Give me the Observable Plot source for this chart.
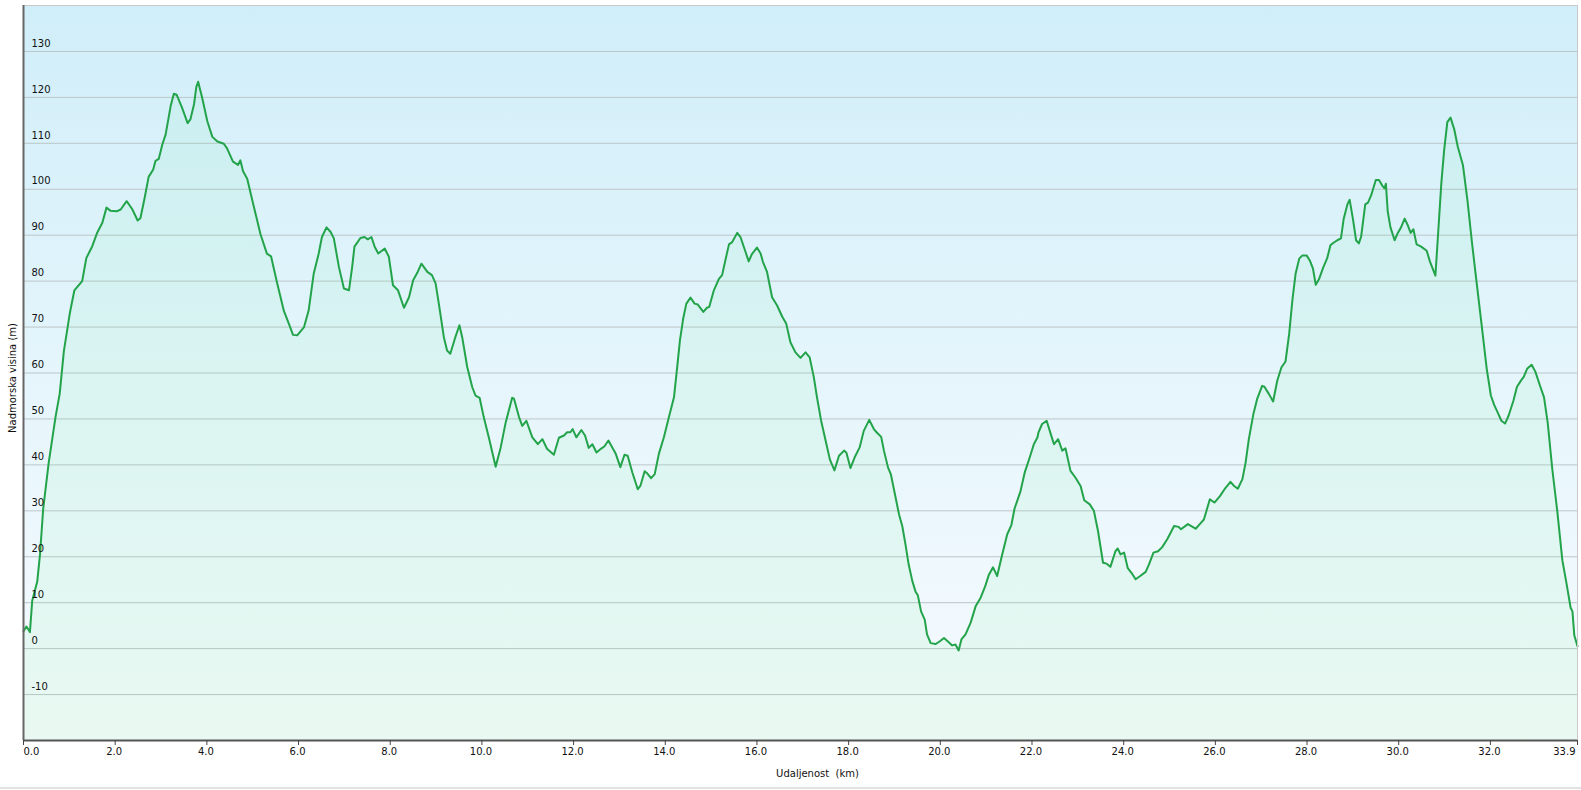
<!DOCTYPE html>
<html>
<head>
<meta charset="utf-8">
<script src="https://cdn.jsdelivr.net/npm/d3@7"></script>
<script src="https://cdn.jsdelivr.net/npm/@observablehq/plot@0.6"></script>
<style>
  html, body { margin: 0; padding: 0; background: #ffffff; }
  #wrap { position: relative; width: 1581px; height: 790px; overflow: hidden; }
  #bottomline { position: absolute; left: 0; top: 787px; width: 1581px; height: 2px; background: #e2e2e2; }
</style>
</head>
<body>
<div id="wrap"><div id="chart"></div><div id="bottomline"></div></div>
<script>
// Distance along the route (km)
const distanceKm = [
  0.00, 0.065, 0.14, 0.19, 0.30, 0.36, 0.43, 0.55, 0.70, 0.79, 0.88, 1.01, 1.11, 1.28, 1.37, 1.50, 1.61, 1.72, 1.81, 1.90,
  2.03, 2.12, 2.25, 2.37, 2.49, 2.55, 2.64, 2.73, 2.83, 2.88, 2.95, 3.03, 3.10, 3.21, 3.28, 3.34, 3.46, 3.58, 3.64, 3.72,
  3.77, 3.81, 3.90, 4.01, 4.12, 4.23, 4.37, 4.44, 4.57, 4.68, 4.73, 4.79, 4.88, 5.02, 5.17, 5.31, 5.40, 5.53, 5.68,
  5.79, 5.88, 5.97, 6.12, 6.22, 6.33, 6.44, 6.51, 6.61, 6.70, 6.77, 6.88, 6.99, 7.10, 7.17, 7.22, 7.35, 7.44, 7.51, 7.59,
  7.66, 7.74, 7.88, 7.97, 8.06, 8.17, 8.30, 8.41, 8.50, 8.59, 8.68, 8.81, 8.91, 8.99, 9.06, 9.17, 9.24, 9.31, 9.42, 9.51,
  9.57, 9.68, 9.79, 9.86, 9.95, 10.04, 10.15, 10.30, 10.41, 10.52, 10.66, 10.70, 10.81, 10.88, 10.97, 11.10, 11.22, 11.32, 11.42,
  11.57, 11.68, 11.79, 11.86, 11.93, 11.98, 12.06, 12.17, 12.25, 12.33, 12.41, 12.50, 12.61, 12.67, 12.76, 12.82, 12.92, 13.02,
  13.11, 13.18, 13.28, 13.40, 13.46, 13.55, 13.61, 13.69, 13.77, 13.86, 13.97, 14.08, 14.19, 14.26, 14.32, 14.39, 14.46, 14.55,
  14.64, 14.71, 14.83, 14.91, 14.96, 15.06, 15.17, 15.24, 15.31, 15.39, 15.46, 15.57, 15.64, 15.75, 15.82, 15.89, 16.00, 16.08,
  16.13, 16.22, 16.33, 16.44, 16.55, 16.64, 16.73, 16.84, 16.95, 17.06,
  17.15, 17.24, 17.31, 17.40, 17.50, 17.59, 17.69, 17.79, 17.90, 17.95, 18.04, 18.13, 18.24, 18.33, 18.45, 18.55, 18.61, 18.71,
  18.77, 18.86, 18.92, 19.01, 19.10, 19.17, 19.24, 19.31, 19.39, 19.46, 19.51, 19.58, 19.66, 19.71, 19.79, 19.90, 19.99, 20.08,
  20.16, 20.26, 20.33, 20.40, 20.46, 20.55, 20.66, 20.77, 20.88, 20.98, 21.06, 21.15, 21.24, 21.35, 21.46, 21.55, 21.62, 21.75,
  21.84, 21.95, 22.04, 22.12, 22.14, 22.22, 22.32, 22.41, 22.48, 22.57, 22.66, 22.73,
  22.84, 22.95, 23.06, 23.14, 23.26, 23.35, 23.44, 23.55, 23.63, 23.71, 23.82, 23.87, 23.93, 24.01, 24.09, 24.17, 24.26, 24.36,
  24.48, 24.55, 24.65, 24.75, 24.84, 24.95, 25.10, 25.20, 25.25, 25.40, 25.57, 25.66, 25.75, 25.88, 25.98, 26.10, 26.20, 26.33,
  26.41, 26.49, 26.59, 26.66, 26.73, 26.83, 26.91, 27.02, 27.07, 27.17, 27.26, 27.35, 27.44, 27.53, 27.61, 27.68, 27.75, 27.83,
  27.90, 27.99, 28.06,
  28.13, 28.19, 28.26, 28.35, 28.44, 28.51, 28.57, 28.66, 28.74, 28.80, 28.88, 28.93, 29.00, 29.07, 29.13, 29.18, 29.27, 29.33,
  29.40, 29.50, 29.57, 29.64, 29.69, 29.72, 29.76, 29.82, 29.91, 29.98, 30.05, 30.13, 30.20, 30.26, 30.32, 30.39, 30.49, 30.61,
  30.68, 30.80, 30.85, 30.93, 30.99, 31.06, 31.13, 31.21, 31.29, 31.40, 31.50, 31.60, 31.71, 31.82, 31.92, 32.01, 32.08, 32.15,
  32.24, 32.32, 32.40, 32.50, 32.58, 32.67, 32.73, 32.80, 32.90, 32.98, 33.09, 33.17, 33.25, 33.35, 33.46, 33.57, 33.66, 33.75,
  33.79, 33.83, 33.90
];

// Elevation (m) at each distance
const elevationM = [
  3.8, 4.8, 3.6, 10.4, 14.6, 20.5, 30.5, 40.5, 50.5, 55.5, 64.7, 73, 78, 80, 85, 87.6, 90.6, 92.7, 96, 95.3,
  95.2, 95.6, 97.4, 95.7, 93.2, 93.7, 98, 102.7, 104.3, 106.2, 106.6, 109.8, 111.9, 118.1, 120.8, 120.6, 117.7, 114.4, 115.2, 118.5,
  122.3, 123.4, 119.8, 114.8, 111.4, 110.4, 109.9, 108.9, 106, 105.3, 106.3, 103.9, 102.3, 96.4, 90.2, 86, 85.4, 79.7, 73.5,
  70.7, 68.3, 68.2, 70, 73.6, 81.6, 86, 89.6, 91.7, 90.7, 89.3, 83.1, 78.4, 78, 83.1, 87.5, 89.4, 89.6, 89.1, 89.6,
  87.5, 86, 87.1, 85.3, 79.1, 78, 74.2, 76.5, 80.2, 81.8, 83.8, 82, 81.3, 79.5, 75.1, 67.8, 64.9, 64.2, 67.8, 70.4,
  67.8, 61.3, 56.9, 55.1, 54.6, 50.4, 46, 39.6, 43.8, 49.3, 54.6, 54.4, 50.4, 48.5, 49.6, 46, 44.5, 45.6, 43.5,
  42.2, 45.9, 46.4, 47.1, 47.1, 47.8, 46, 47.6, 46.4, 43.7, 44.5, 42.7, 43.6, 44, 45.3, 44.2, 42.4, 39.5,
  42.2, 42, 38.4, 34.7, 35.5, 38.6, 38.1, 37.1, 38, 42.4, 46, 50.4, 54.7, 61.3, 67.1, 71.8, 75.1, 76.4,
  75.1, 74.9, 73.3, 74.2, 74.4, 78, 80.5, 81.3, 84.5, 88, 88.5, 90.5, 89.6, 86.4, 84.3, 85.9, 87.3, 86,
  84.2, 82, 76.5, 74.7, 72.3, 70.7, 66.7, 64.5, 63.3, 64.5,
  63.4, 59.1, 54.7, 49.6, 45.2, 41.2, 38.8, 42, 43.1, 42.7, 39.3, 41.6, 43.8, 47.4, 49.8, 47.8, 47.1, 46.1,
  43.1, 39.4, 38, 33.6, 29.2, 26.7, 22.7, 18.3, 14.7, 12.4, 11.6, 8.1, 6.3, 3.1, 1.2, 1.0, 1.6, 2.3,
  1.6, 0.7, 0.9, -0.4, 2, 3.1, 5.6, 9.2, 11.1, 13.6, 16.1, 17.7, 15.8, 20.5, 24.9, 26.9, 30.5, 34.3,
  38.3, 41.6, 44.5, 46, 47, 48.9, 49.6, 46.7, 44.5, 45.6, 43.1, 43.6,
  38.7, 37.2, 35.4, 32.3, 31.4, 30, 25.6, 18.7, 18.5, 17.8, 21.2, 21.8, 20.5, 20.9, 17.5, 16.5, 15.1, 15.8,
  16.7, 18.3, 20.9, 21.2, 22.1, 23.8, 26.7, 26.5, 26, 27.1, 26.1, 27.1, 28.1, 32.5, 31.8, 33.2, 34.7, 36.3,
  35.4, 34.8, 36.9, 40.5, 45.6, 51.1, 54.3, 57.2, 57, 55.4, 53.8, 58.3, 61.2, 62.5, 68.5, 75.8, 81.6, 84.9,
  85.6, 85.6, 84.5,
  82.7, 79.2, 80.4, 82.9, 85, 87.8, 88.3, 88.9, 89.3, 93.6, 96.7, 97.7, 93.6, 88.9, 88.2, 89.7, 96.7, 97.1,
  98.7, 102, 102, 100.8, 100.2, 101.2, 95.2, 91.7, 88.9, 90.5, 91.7, 93.6, 92.1, 90.5, 91.3, 88, 87.5, 86.6,
  84.3, 81.2, 88.9, 101.4, 108.4, 114.6, 115.6, 113.1, 109.2, 105.3, 97.5, 88.2, 78.8, 69.5, 60.9, 55.1, 53.1, 51.6,
  49.6, 49, 50.8, 53.9, 57, 58.4, 59.2, 60.9, 61.8, 60.3, 57, 54.7, 49.2, 39.1, 29.8, 19.2, 14.2, 8.9,
  8.1, 2.9, 0.5
];

// Axis ticks
const yTickValues = [-10, 0, 10, 20, 30, 40, 50, 60, 70, 80, 90, 100, 110, 120, 130];
const xTickValues = [2, 4, 6, 8, 10, 12, 14, 16, 18, 20, 22, 24, 26, 28, 30, 32];
const xFirstTick = [0];
const xLastTick = [33.9];
const yTitle = ["Nadmorska visina (m)"];
const xTitle = ["Udaljenost\u00a0 (km)"];

const idx = d3.range(distanceKm.length);
const fontFamily = "'DejaVu Sans', Verdana, sans-serif";

// Gradient definitions (non-data helper mark)
function gradientDefs() {
  const g = d3.create("svg:g");
  const defs = g.append("defs");
  const bg = defs.append("linearGradient").attr("id", "bgGrad")
    .attr("x1", 0).attr("y1", 0).attr("x2", 0).attr("y2", 1);
  bg.append("stop").attr("offset", "0%").attr("stop-color", "#d0eef9");
  bg.append("stop").attr("offset", "55%").attr("stop-color", "#e7f6fc");
  bg.append("stop").attr("offset", "100%").attr("stop-color", "#f6fafe");
  const ar = defs.append("linearGradient").attr("id", "areaGrad")
    .attr("x1", 0).attr("y1", 0).attr("x2", 0).attr("y2", 1);
  ar.append("stop").attr("offset", "0%").attr("stop-color", "rgb(50,225,110)").attr("stop-opacity", 0.06);
  ar.append("stop").attr("offset", "100%").attr("stop-color", "rgb(70,235,90)").attr("stop-opacity", 0.075);
  return g.node();
}

const chart = Plot.plot({
  width: 1581,
  height: 790,
  marginLeft: 23,
  marginRight: 4,
  marginTop: 5,
  marginBottom: 50,
  style: { fontFamily, fontSize: "10px", background: "transparent", color: "#111", overflow: "visible" },
  x: { domain: [0, 33.9], axis: null },
  y: { domain: [-20, 140], axis: null },
  marks: [
    gradientDefs,
    Plot.frame({ fill: "url(#bgGrad)", stroke: null }),
    Plot.ruleY(yTickValues, { stroke: "#bcc6c9", strokeWidth: 1 }),
    Plot.areaY(idx, { x: i => distanceKm[i], y1: -20, y2: i => elevationM[i], fill: "url(#areaGrad)", curve: "linear" }),
    Plot.line(idx, { x: i => distanceKm[i], y: i => elevationM[i], stroke: "#23a34a", strokeWidth: 2, curve: "linear" }),
    // Y tick labels inside the plot, above the grid lines
    Plot.text(yTickValues, { y: d => d, frameAnchor: "left", textAnchor: "start", dx: 8, dy: -8, text: d => String(d), fill: "#111", fontSize: 10 }),
    // Frame borders
    Plot.ruleY([140], { stroke: "#c9c9c9", strokeWidth: 1 }),
    Plot.ruleX([33.9], { stroke: "#c9c9c9", strokeWidth: 1 }),
    Plot.ruleX([0], { stroke: "#666", strokeWidth: 2 }),
    Plot.ruleY([-20], { stroke: "#555", strokeWidth: 2 }),
    // X ticks
    Plot.axisX([0, ...xTickValues, 33.9], { tickSize: 5, tickFormat: () => "", stroke: "#444", label: null }),
    Plot.text(xTickValues, { x: d => d, frameAnchor: "bottom", dy: 14, dx: -1, text: d => d.toFixed(1), fill: "#111", fontSize: 10 }),
    Plot.text(xFirstTick, { x: d => d, frameAnchor: "bottom", dy: 14, textAnchor: "start", text: d => d.toFixed(1), fill: "#111", fontSize: 10 }),
    Plot.text(xLastTick, { x: d => d, frameAnchor: "bottom", dy: 14, textAnchor: "end", dx: -2, text: d => d.toFixed(1), fill: "#111", fontSize: 10 }),
    // Axis titles
    Plot.text(xTitle, { frameAnchor: "bottom", textAnchor: "middle", lineAnchor: "middle", dy: 33, dx: 17, text: d => d, fill: "#111", fontSize: 10 }),
    Plot.text(yTitle, { frameAnchor: "left", textAnchor: "middle", lineAnchor: "middle", rotate: -90, dx: -11, dy: 5, text: d => d, fill: "#111", fontSize: 10 })
  ]
});

document.getElementById("chart").appendChild(chart);
</script>
</body>
</html>
